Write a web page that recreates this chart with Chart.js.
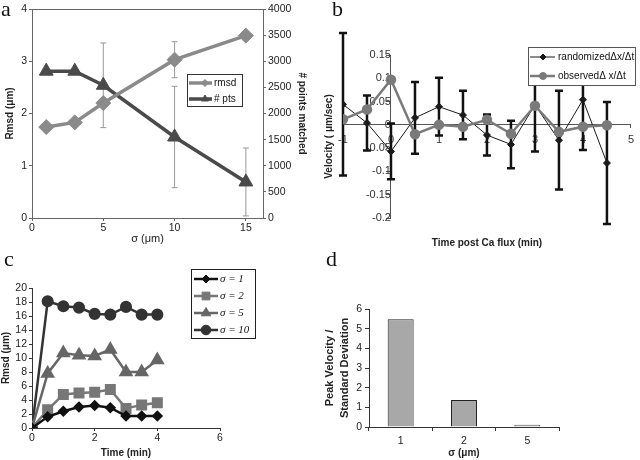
<!DOCTYPE html>
<html>
<head>
<meta charset="utf-8">
<script src="https://cdn.jsdelivr.net/npm/chart.js@4.4.1/dist/chart.umd.min.js"></script>
<style>
  body { margin: 0; background: #fff; }
  #fig { position: relative; width: 640px; height: 460px; overflow: hidden; background: #fff; }
  #fig canvas { position: absolute; }
  .tag { position: absolute; font-family: 'Liberation Serif', serif; font-size: 22px; line-height: 1; color: #111; }
</style>
</head>
<body>
<div id="fig">
  <canvas id="chartA" width="320" height="250" style="left:0;top:0"></canvas>
  <canvas id="chartB" width="320" height="250" style="left:320px;top:0"></canvas>
  <canvas id="chartC" width="320" height="230" style="left:0;top:230px"></canvas>
  <canvas id="chartD" width="320" height="230" style="left:320px;top:230px"></canvas>
  <div class="tag" style="left:1px;top:-2px">a</div>
  <div class="tag" style="left:332px;top:-2px">b</div>
  <div class="tag" style="left:4px;top:248px">c</div>
  <div class="tag" style="left:326px;top:248px">d</div>
</div>
<script>
// a: rmsd and matched points vs sigma
const sigmaA = [1, 3, 5, 10, 15];
const rmsdA = [1.74, 1.83, 2.2, 3.03, 3.49];
const rmsdErrA = [0, 0, 0, 0.345, 0];
const ptsA = [2810, 2810, 2540, 1550, 690];
const ptsErrA = [0, 0, 810, 970, 650];

// b: velocity around the Ca flux
const timeB = [-1, -0.5, 0, 0.5, 1, 1.5, 2, 2.5, 3, 3.5, 4, 4.5];
const randomB = [0.044, 0.004, -0.057, 0.015, 0.039, 0.021, -0.022, -0.042, 0.043, -0.033, 0.054, -0.082];
const randomSdB = [0.153, 0.059, 0.06, 0.077, 0.062, 0.052, 0.044, 0.051, 0.1, 0.106, 0.108, 0.131];
const observedB = [0.012, 0.033, 0.097, -0.02, 0, -0.004, 0.011, -0.019, 0.041, -0.015, -0.004, -0.001];

// c: rmsd over time for each sigma
const timeC = [0, 0.5, 1, 1.5, 2, 2.5, 3, 3.5, 4];
const sig1C = [0, 1.6, 2.4, 3.0, 3.2, 2.9, 1.7, 1.7, 1.7];
const sig2C = [0, 2.6, 4.8, 5.0, 5.1, 5.5, 2.8, 3.3, 3.6];
const sig5C = [0, 7.8, 10.7, 10.4, 10.3, 11.2, 8.0, 8.0, 9.7];
const sig10C = [0, 18.1, 17.4, 17.2, 16.3, 16.2, 17.3, 16.2, 16.2];

// d: peak velocity / sd
const sigmaD = ['1', '2', '5'];
const ratioD = [5.48, 1.37, 0.12];

const SANS = "'Liberation Sans', Arial, sans-serif";
Chart.defaults.font.family = SANS;
Chart.defaults.color = '#222';
Chart.defaults.animation = false;
Chart.defaults.plugins.legend.display = false;
Chart.defaults.plugins.tooltip.enabled = false;

const pts = (xs, ys) => xs.map((x, i) => ({ x: x, y: ys[i] }));
const plain = v => String(Math.round(v * 100) / 100);
const tickFont = { family: SANS, size: 10.5 };
const titleFont = { family: SANS, size: 10, weight: 'bold' };

// error bars kept on the dataset: {err, color, width, cap}
const errorBars = {
  id: 'errorBars',
  beforeDatasetsDraw(chart) {
    const ctx = chart.ctx;
    chart.data.datasets.forEach((ds, di) => {
      const eb = ds.errorBars;
      if (!eb) return;
      const meta = chart.getDatasetMeta(di);
      const xs = chart.scales[meta.xAxisID];
      const ys = chart.scales[meta.yAxisID];
      ctx.save();
      ctx.strokeStyle = eb.color;
      ctx.lineWidth = eb.width;
      ds.data.forEach((p, i) => {
        const e = eb.err[i];
        if (!e) return;
        const x = xs.getPixelForValue(p.x);
        const lo = ys.getPixelForValue(p.y - e);
        const hi = ys.getPixelForValue(p.y + e);
        ctx.beginPath();
        ctx.moveTo(x, lo); ctx.lineTo(x, hi);
        ctx.moveTo(x - eb.cap, lo); ctx.lineTo(x + eb.cap, lo);
        ctx.moveTo(x - eb.cap, hi); ctx.lineTo(x + eb.cap, hi);
        ctx.stroke();
      });
      ctx.restore();
    });
  }
};

// framed legend, like the excel one
const boxLegend = {
  id: 'boxLegend',
  afterDraw(chart, args, o) {
    if (!o || !o.box) return;
    const ctx = chart.ctx;
    const b = o.box;
    ctx.save();
    ctx.fillStyle = '#fff';
    ctx.fillRect(b[0], b[1], b[2], b[3]);
    ctx.strokeStyle = o.border;
    ctx.lineWidth = 1;
    ctx.strokeRect(b[0] + 0.5, b[1] + 0.5, b[2], b[3]);
    ctx.font = o.font;
    ctx.textBaseline = 'middle';
    chart.data.datasets.forEach((ds, i) => {
      const y = o.rows[i];
      ctx.strokeStyle = ds.borderColor;
      ctx.lineWidth = ds.borderWidth;
      ctx.beginPath();
      ctx.moveTo(o.line[0], y); ctx.lineTo(o.line[1], y);
      ctx.stroke();
      ctx.fillStyle = ds.backgroundColor;
      ctx.lineWidth = 1;
      Chart.helpers.drawPoint(ctx, { pointStyle: ds.pointStyle, radius: o.radius[i], borderWidth: 1 }, o.mark, y);
      ctx.fillStyle = '#111';
      ctx.fillText(ds.label, o.textX, y + 0.5);
    });
    ctx.restore();
  }
};

const topLine = {
  id: 'topLine',
  afterDraw(chart) {
    const a = chart.chartArea, ctx = chart.ctx;
    ctx.save();
    ctx.strokeStyle = '#666';
    ctx.lineWidth = 1;
    ctx.beginPath();
    ctx.moveTo(a.left, a.top + 0.5); ctx.lineTo(a.right, a.top + 0.5);
    ctx.stroke();
    ctx.restore();
  }
};

Chart.register(errorBars, boxLegend);

const ticksOnly = (color, len) => ({ display: true, drawOnChartArea: false, tickLength: len, color: color });

// ---- a ----
new Chart(document.getElementById('chartA'), {
  type: 'line',
  data: {
    datasets: [
      {
        label: 'rmsd', data: pts(sigmaA, rmsdA), yAxisID: 'y',
        borderColor: '#8a8a8a', backgroundColor: '#8a8a8a', borderWidth: 3.5,
        pointStyle: 'rectRot', pointRadius: 7.5, pointBorderWidth: 1,
        errorBars: { err: rmsdErrA, color: '#999', width: 1, cap: 3 },
      },
      {
        label: '# pts', data: pts(sigmaA, ptsA), yAxisID: 'y1',
        borderColor: '#4a4a4a', backgroundColor: '#4a4a4a', borderWidth: 3.5,
        pointStyle: 'triangle', pointRadius: 8, pointBorderWidth: 1,
        errorBars: { err: ptsErrA, color: '#999', width: 1, cap: 3 },
      },
    ],
  },
  options: {
    responsive: false,
    layout: { padding: { top: 5 } },
    scales: {
      x: {
        type: 'linear', min: 0, max: 16.2,
        ticks: { stepSize: 5, includeBounds: false, font: tickFont, color: '#222', padding: 1 },
        grid: ticksOnly('#666', 3), border: { color: '#666' },
        title: { display: true, text: 'σ (μm)', font: { family: SANS, size: 11 }, padding: { top: 0, bottom: 4 } },
        afterFit: s => { s.height = 32; },
      },
      y: {
        position: 'left', min: 0, max: 4,
        ticks: { stepSize: 1, font: tickFont, color: '#222', padding: 2 },
        grid: ticksOnly('#666', 3), border: { color: '#666' },
        title: { display: true, text: 'Rmsd (μm)', font: titleFont, padding: { top: 4, bottom: 0 } },
        afterFit: s => { s.width = 32; },
      },
      y1: {
        position: 'right', min: 0, max: 4000,
        ticks: { stepSize: 500, font: tickFont, color: '#222', padding: 2, autoSkip: false, callback: plain },
        grid: ticksOnly('#666', 3), border: { color: '#666' },
        title: { display: true, text: '# points matched', font: titleFont, padding: { top: 12, bottom: 0 } },
        afterFit: s => { s.width = 57; },
      },
    },
    plugins: {
      boxLegend: {
        box: [187, 74, 55, 32], rows: [83, 99], line: [189, 212], mark: 205, textX: 214,
        radius: [3.5, 4], border: '#333', font: '10px ' + SANS,
      },
    },
  },
  plugins: [topLine],
});

// ---- b ----
new Chart(document.getElementById('chartB'), {
  type: 'line',
  data: {
    datasets: [
      {
        label: 'randomizedΔx/Δt', data: pts(timeB, randomB), xAxisID: 'x', yAxisID: 'y', order: 1,
        borderColor: '#1a1a1a', backgroundColor: '#1a1a1a', borderWidth: 1,
        pointStyle: 'rectRot', pointRadius: 3.5,
        errorBars: { err: randomSdB, color: '#111', width: 2.5, cap: 4 },
      },
      {
        label: 'observedΔ x/Δt', data: pts(timeB, observedB), xAxisID: 'x', yAxisID: 'y', order: 0,
        borderColor: '#7a7a7a', backgroundColor: '#7a7a7a', borderWidth: 2.5,
        pointStyle: 'circle', pointRadius: 4,
      },
    ],
  },
  options: {
    responsive: false,
    layout: { padding: { top: 55, right: 8 } },
    scales: {
      x: {
        type: 'linear', position: { y: 0 }, min: -1, max: 5,
        ticks: { stepSize: 1, font: { family: SANS, size: 11 }, color: '#333', padding: 6, autoSkip: false },
        grid: ticksOnly('#555', 3), border: { color: '#555' },
      },
      y: {
        type: 'linear', position: { x: 0 }, min: -0.2, max: 0.15,
        ticks: { stepSize: 0.05, font: { family: SANS, size: 11 }, color: '#333', padding: 3, autoSkip: false,
          callback: plain },
        grid: ticksOnly('#555', 4), border: { color: '#555' },
      },
      xT: {
        type: 'linear', axis: 'x', position: 'bottom',
        ticks: { display: false }, grid: { display: false }, border: { display: false },
        title: { display: true, text: 'Time post Ca flux (min)', font: titleFont, padding: { top: 0, bottom: 1 } },
        afterFit: s => { s.height = 32; },
      },
      yT: {
        type: 'linear', axis: 'y', position: 'left',
        ticks: { display: false }, grid: { display: false }, border: { display: false },
        title: { display: true, text: 'Velocity ( μm/sec)', font: titleFont, padding: { top: 3, bottom: 0 } },
        afterFit: s => { s.width = 23; },
      },
    },
    plugins: {
      boxLegend: {
        box: [208, 47, 107, 38], rows: [57, 76], line: [210, 235], mark: 223, textX: 238,
        radius: [3, 3.5], border: '#555', font: '10px ' + SANS,
      },
    },
  },
});

// ---- c ----
new Chart(document.getElementById('chartC'), {
  type: 'line',
  data: {
    datasets: [
      { label: 'σ = 1', data: pts(timeC, sig1C), borderColor: '#111', backgroundColor: '#111',
        borderWidth: 2.5, pointStyle: 'rectRot', pointRadius: 4 },
      { label: 'σ = 2', data: pts(timeC, sig2C), borderColor: '#777', backgroundColor: '#777',
        borderWidth: 2.5, pointStyle: 'rect', pointRadius: 6 },
      { label: 'σ = 5', data: pts(timeC, sig5C), borderColor: '#666', backgroundColor: '#666',
        borderWidth: 2.5, pointStyle: 'triangle', pointRadius: 6 },
      { label: 'σ = 10', data: pts(timeC, sig10C), borderColor: '#333', backgroundColor: '#333',
        borderWidth: 2.5, pointStyle: 'circle', pointRadius: 4.8 },
    ],
  },
  options: {
    responsive: false,
    layout: { padding: { top: 58, right: 100 } },
    scales: {
      x: {
        type: 'linear', min: 0, max: 6,
        ticks: { stepSize: 2, font: tickFont, color: '#222', padding: 1, autoSkip: false },
        grid: ticksOnly('#333', 3), border: { color: '#333' },
        title: { display: true, text: 'Time (min)', font: titleFont, padding: { top: 0, bottom: 1 } },
        afterFit: s => { s.height = 32; },
      },
      y: {
        min: 0, max: 20,
        ticks: { stepSize: 2, font: tickFont, color: '#222', padding: 2, autoSkip: false },
        grid: ticksOnly('#333', 3), border: { color: '#333' },
        title: { display: true, text: 'Rmsd (μm)', font: titleFont, padding: { top: 0, bottom: 0 } },
        afterFit: s => { s.width = 32; },
      },
    },
    plugins: {
      boxLegend: {
        box: [191, 39, 64, 69], rows: [49, 66, 83, 100], line: [194, 218], mark: 206, textX: 220,
        radius: [4, 5.5, 5.5, 4.8], border: '#222', font: 'italic 11px "Liberation Serif", serif',
      },
    },
  },
});

// ---- d ----
new Chart(document.getElementById('chartD'), {
  type: 'bar',
  data: {
    labels: sigmaD,
    datasets: [{
      data: ratioD, backgroundColor: '#a8a8a8', borderColor: '#222', borderWidth: 1,
      barPercentage: 0.41, categoryPercentage: 1,
    }],
  },
  options: {
    responsive: false,
    layout: { padding: { top: 79, right: 81 } },
    scales: {
      x: {
        ticks: { font: tickFont, color: '#222', padding: 4 },
        grid: { display: true, drawOnChartArea: false, tickLength: 4, color: '#333', offset: true },
        border: { color: '#333' },
        title: { display: true, text: 'σ (μm)', font: titleFont, padding: { top: 0, bottom: 1 } },
        afterFit: s => { s.height = 33; },
      },
      y: {
        min: 0, max: 6,
        ticks: { stepSize: 1, font: tickFont, color: '#222', padding: 3, autoSkip: false },
        grid: ticksOnly('#333', 4), border: { color: '#333' },
        title: { display: true, text: ['Peak Velocity /', 'Standard Deviation'],
          font: { family: SANS, size: 11, weight: 'bold', lineHeight: 1.35 }, padding: { top: 2.5, bottom: 0 } },
        afterFit: s => { s.width = 49; },
      },
    },
  },
});
</script>
</body>
</html>
